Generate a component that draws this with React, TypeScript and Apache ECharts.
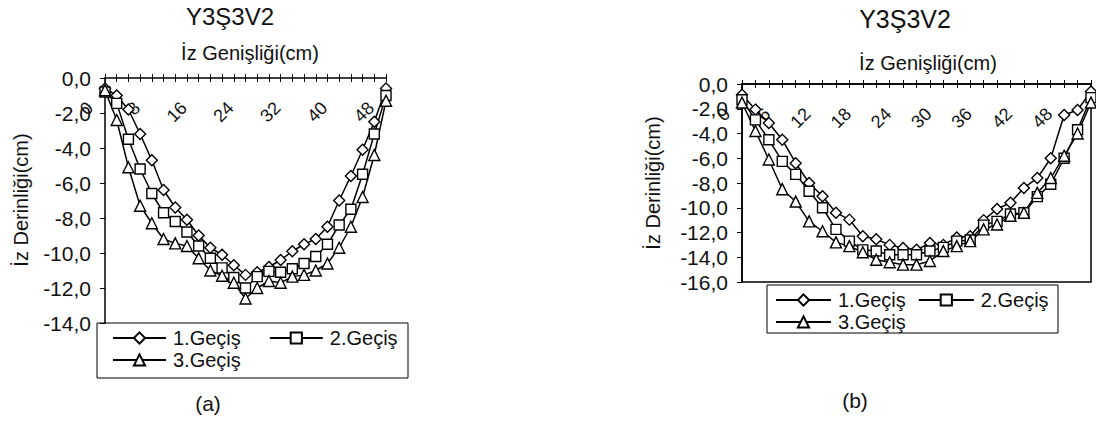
import React, { useEffect, useRef } from 'react';
import * as echarts from 'echarts';

const FONT = '"Liberation Sans", Arial, sans-serif';

// (a) panel: track width categories (cm) and depths (cm)
const widthsA = ['0','2','4','6','8','10','12','14','16','18','20','22','24','26','28','30','32','34','36','38','40','42','44','46','48'];
const passA1 = [-0.6,-1.0,-1.8,-3.2,-4.7,-6.4,-7.4,-8.1,-9.0,-9.7,-10.1,-10.7,-11.25,-11.1,-10.8,-10.4,-9.9,-9.5,-9.2,-8.5,-7.0,-5.6,-4.1,-2.5,-0.6];
const passA2 = [-0.8,-1.45,-3.5,-5.2,-6.6,-7.7,-8.2,-8.8,-9.6,-10.3,-10.85,-11.4,-12.0,-11.35,-11.05,-11.1,-10.9,-10.6,-10.2,-9.5,-8.4,-7.5,-5.5,-3.2,-1.0];
const passA3 = [-0.7,-2.4,-5.1,-7.3,-8.3,-9.2,-9.45,-9.6,-10.3,-11.0,-11.3,-11.7,-12.6,-12.0,-11.6,-11.7,-11.35,-11.25,-11.0,-10.6,-9.7,-8.5,-6.8,-4.4,-1.3];
const yRangeA = [-14, 0];

// (b) panel
const widthsB = ['0','2','4','6','8','10','12','14','16','18','20','22','24','26','28','30','32','34','36','38','40','42','44','46','48','50','52'];
const passB1 = [-0.86,-2.07,-3.15,-4.5,-6.4,-8.0,-9.07,-10.4,-10.96,-12.3,-12.55,-13.0,-13.25,-13.4,-12.85,-13.0,-12.4,-12.3,-11.0,-10.1,-9.6,-8.4,-7.6,-6.0,-2.5,-2.1,-0.6];
const passB2 = [-1.27,-2.9,-4.5,-6.25,-7.3,-8.67,-10.0,-11.75,-12.7,-13.4,-13.5,-13.8,-13.8,-13.8,-13.5,-13.2,-12.7,-12.6,-11.4,-11.1,-10.5,-10.4,-9.1,-8.1,-6.0,-3.7,-1.1];
const passB3 = [-1.5,-3.8,-6.1,-8.5,-9.5,-11.1,-11.9,-12.8,-13.1,-13.6,-14.2,-14.4,-14.6,-14.6,-14.3,-13.5,-13.1,-12.7,-11.75,-11.35,-10.65,-10.4,-8.8,-7.6,-5.8,-4.0,-1.5];
const yRangeB = [-16, 0];

const seriesNames = ['1.Geçiş', '2.Geçiş', '3.Geçiş'];
const symbols = ['diamond', 'rect', 'triangle'];
const symbolSizes = [11, 10, 11];

const title = 'Y3Ş3V2';
const xName = 'İz Genişliği(cm)';
const yName = 'İz Derinliği(cm)';

const fmt = (v: number) => v.toFixed(1).replace('.', ',');

export default function App() {
  const ref = useRef<HTMLDivElement>(null);
  useEffect(() => {
    if (!ref.current) return;
    const chart = echarts.init(ref.current, undefined, { renderer: 'svg' });
    const txt = '#111';
    const gridA = { left: 105, top: 78, width: 281, height: 245 };
    const gridB = { left: 742, top: 84, width: 349, height: 198 };

    const mainX = (gi: number, data: string[], interval: number) => ({
      type: 'category', gridIndex: gi, position: 'top', data, boundaryGap: false,
      axisLine: { onZero: false, lineStyle: { color: '#000', width: 1.5 } },
      axisTick: { show: true, interval: 0, inside: false, length: 4, lineStyle: { color: '#000', width: 1 } },
      axisLabel: {
        interval, inside: true, rotate: -45, fontSize: 18, color: txt, fontFamily: FONT,
        margin: 12, align: 'right', verticalAlign: 'middle', padding: [0, 21, 0, 0],
      },
      splitLine: { show: false },
    });
    const tickX = (gi: number, data: string[], h: number) => ({
      type: 'category', gridIndex: gi, position: 'bottom', offset: -h, data, boundaryGap: false,
      axisLine: { show: false, onZero: false },
      axisTick: { show: true, interval: 0, inside: false, length: 4, lineStyle: { color: '#000', width: 1 } },
      axisLabel: { show: false },
      splitLine: { show: false },
    });
    const yAx = (gi: number, r: number[], fs: number) => ({
      type: 'value', gridIndex: gi, min: r[0], max: r[1], interval: 2,
      axisLine: { show: true, lineStyle: { color: '#000', width: 1.5 } },
      axisTick: { show: true, inside: false, length: 5, lineStyle: { color: '#000' } },
      axisLabel: { formatter: fmt, fontSize: fs, color: txt, fontFamily: FONT, margin: 14 },
      splitLine: { show: false },
    });

    const mk = (i: number, data: number[], xi: number, yi: number) => ({
      name: seriesNames[i], type: 'line', xAxisIndex: xi, yAxisIndex: yi, data,
      symbol: symbols[i], symbolSize: symbolSizes[i], showAllSymbol: true,
      itemStyle: { color: '#fff', borderColor: '#000', borderWidth: 1.4 },
      lineStyle: { color: '#000', width: 1.5 },
      emphasis: { disabled: true },
    });

    const legendBase = (left: number, top: number, data: string[], iw: number, gap: number) => ({
      left, top, data, orient: 'horizontal', itemWidth: iw, itemHeight: 14, itemGap: gap, padding: 0,
      selectedMode: false,
      textStyle: { fontSize: 20, fontFamily: FONT, color: txt, lineHeight: 19, padding: [0, 0, 0, 2] },
    });

    const gText = (text: string, x: number, y: number, fs: number, rot = 0) => ({
      type: 'text', x, y, rotation: rot,
      style: { text, fontSize: fs, fontFamily: FONT, fill: txt, align: 'center', verticalAlign: 'middle' },
    });

    chart.setOption({
      animation: false,
      backgroundColor: '#fff',
      grid: [
        { ...gridA, show: false },
        { ...gridB, show: true, borderColor: '#000', borderWidth: 1.5, backgroundColor: 'transparent' },
      ],
      xAxis: [mainX(0, widthsA, 3), tickX(0, widthsA, gridA.height), mainX(1, widthsB, 2), tickX(1, widthsB, gridB.height)],
      yAxis: [yAx(0, yRangeA, 21), yAx(1, yRangeB, 21)],
      legend: [
        legendBase(112, 328, [seriesNames[0], seriesNames[1]], 53, 28),
        legendBase(112, 350, [seriesNames[2]], 53, 28),
        legendBase(775, 290, [seriesNames[0], seriesNames[1]], 55, 12),
        legendBase(775, 312, [seriesNames[2]], 55, 12),
      ],
      graphic: [
        { type: 'rect', shape: { x: 97, y: 323, width: 311, height: 55 }, style: { fill: 'none', stroke: '#000', lineWidth: 1 } },
        { type: 'rect', shape: { x: 767, y: 285, width: 291, height: 48 }, style: { fill: 'none', stroke: '#000', lineWidth: 1 } },
        gText(title, 230, 16, 24),
        gText(title, 905, 19, 25),
        gText(xName, 250, 53, 20),
        gText(xName, 928, 63, 20),
        gText(yName, 21, 200, 20, Math.PI / 2),
        gText(yName, 653, 183, 20, Math.PI / 2),
        gText('(a)', 208, 403, 21),
        gText('(b)', 855, 400, 21),
      ],
      series: [
        mk(0, passA1, 0, 0), mk(1, passA2, 0, 0), mk(2, passA3, 0, 0),
        mk(0, passB1, 2, 1), mk(1, passB2, 2, 1), mk(2, passB3, 2, 1),
      ],
    });
    return () => chart.dispose();
  }, []);
  return <div ref={ref} style={{ position: 'absolute', left: 0, top: 0, width: 1096, height: 421, background: '#fff' }} />;
}
